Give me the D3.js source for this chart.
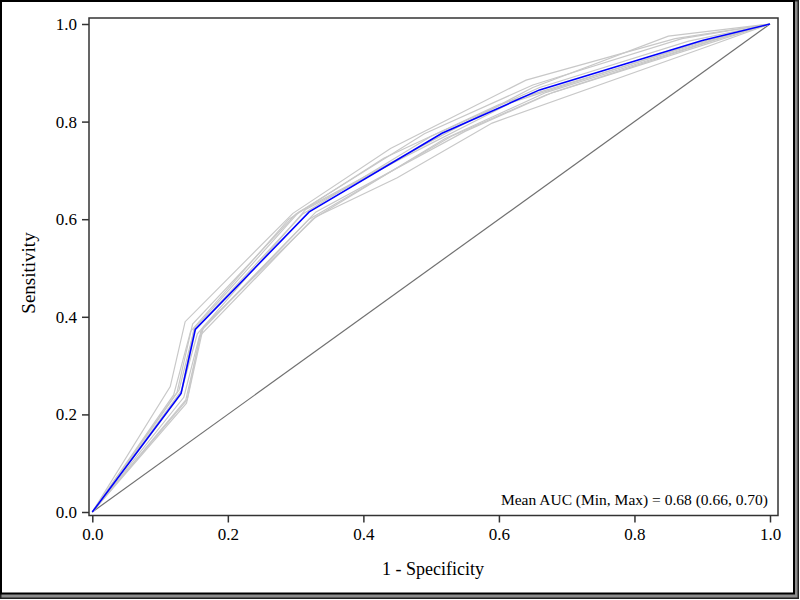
<!DOCTYPE html>
<html>
<head>
<meta charset="utf-8">
<script src="https://cdn.jsdelivr.net/npm/d3@7"></script>
<style>
  body { margin: 0; background: #fff; }
  svg { display: block; font-family: "Liberation Serif", "Times New Roman", serif; }
</style>
</head>
<body>
<svg id="chart" width="800" height="600"></svg>
<script>
// mean ROC curve (blue)
var meanFpr = [0, 0.131, 0.152, 0.32, 0.516, 0.66, 0.90, 1];
var meanTpr = [0, 0.243, 0.374, 0.615, 0.776, 0.865, 0.966, 1];

// individual runs (grey) - [fpr, tpr]
var runs = [
  [[0, 0.115, 0.137, 0.296, 0.44, 0.64, 0.86, 1], [0, 0.257, 0.39, 0.612, 0.745, 0.885, 0.97, 1]],
  [[0, 0.139, 0.164, 0.33, 0.45, 0.59, 0.91, 1], [0, 0.223, 0.38, 0.605, 0.685, 0.797, 0.955, 1]],
  [[0, 0.128, 0.15, 0.31, 0.5, 0.66, 0.88, 1], [0, 0.25, 0.372, 0.61, 0.77, 0.87, 0.965, 1]],
  [[0, 0.135, 0.158, 0.325, 0.52, 0.67, 0.9, 1], [0, 0.235, 0.36, 0.6, 0.765, 0.86, 0.96, 1]],
  [[0, 0.125, 0.148, 0.3, 0.49, 0.65, 0.87, 1], [0, 0.245, 0.385, 0.61, 0.775, 0.875, 0.97, 1]],
  [[0, 0.14, 0.16, 0.32, 0.53, 0.67, 0.92, 1], [0, 0.23, 0.37, 0.6, 0.77, 0.855, 0.965, 1]],
  [[0, 0.13, 0.155, 0.315, 0.45, 0.62, 0.89, 1], [0, 0.24, 0.365, 0.62, 0.72, 0.84, 0.96, 1]],
  [[0, 0.132, 0.15, 0.305, 0.5, 0.65, 0.85, 1], [0, 0.25, 0.375, 0.615, 0.76, 0.87, 0.975, 1]],
  [[0, 0.12, 0.145, 0.29, 0.43, 0.6, 0.9, 1], [0, 0.24, 0.37, 0.6, 0.725, 0.835, 0.962, 1]],
  [[0, 0.138, 0.162, 0.33, 0.55, 0.68, 0.92, 1], [0, 0.23, 0.375, 0.615, 0.78, 0.86, 0.968, 1]]
];

var tickValues = [0, 0.2, 0.4, 0.6, 0.8, 1.0];
var aucLabel = "Mean AUC (Min, Max) = 0.68 (0.66, 0.70)";

var svg = d3.select('#chart');

// outer frame with shadow
svg.append('rect')
  .attr('x', 0.75).attr('y', 0.75).attr('width', 797.5).attr('height', 597.5)
  .attr('fill', '#8c8c8c').attr('stroke', '#222').attr('stroke-width', 1.5);
svg.append('rect')
  .attr('x', 1).attr('y', 1).attr('width', 793).attr('height', 592.5)
  .attr('fill', '#fff').attr('stroke', '#000').attr('stroke-width', 2);

var x = d3.scaleLinear().domain([0, 1]).range([92.3, 770]);
var y = d3.scaleLinear().domain([0, 1]).range([512, 24]);

// plot box
var box = { left: 89, right: 778, top: 18, bottom: 515.5 };
svg.append('rect')
  .attr('x', box.left).attr('y', box.top)
  .attr('width', box.right - box.left).attr('height', box.bottom - box.top)
  .attr('fill', 'none').attr('stroke', '#333').attr('stroke-width', 1.5);

// axes
var fmt = d3.format('.1f');
var xAxis = svg.append('g')
  .attr('transform', 'translate(0,' + box.bottom + ')')
  .call(d3.axisBottom(x).tickValues(tickValues).tickFormat(fmt).tickSizeOuter(0).tickSize(7).tickPadding(5));
var yAxis = svg.append('g')
  .attr('transform', 'translate(' + box.left + ',0)')
  .call(d3.axisLeft(y).tickValues(tickValues).tickFormat(fmt).tickSizeOuter(0).tickSize(7).tickPadding(5));

[xAxis, yAxis].forEach(function(g) {
  g.select('.domain').remove();
  g.selectAll('line').attr('stroke', '#333').attr('stroke-width', 1.5);
  g.selectAll('text')
    .attr('fill', '#000')
    .style('font-family', '"Liberation Serif", "Times New Roman", serif')
    .style('font-size', '17px');
});

// chance diagonal
svg.append('line')
  .attr('x1', x(0)).attr('y1', y(0)).attr('x2', x(1)).attr('y2', y(1))
  .attr('stroke', '#707070').attr('stroke-width', 1.2);

var line = d3.line()
  .x(function(d) { return x(d[0]); })
  .y(function(d) { return y(d[1]); });

// grey runs
svg.append('g').selectAll('path')
  .data(runs)
  .enter().append('path')
  .attr('d', function(r) { return line(d3.zip(r[0], r[1])); })
  .attr('fill', 'none')
  .attr('stroke', '#c8c8c8')
  .attr('stroke-width', 1.2);

// mean curve
svg.append('path')
  .attr('d', line(d3.zip(meanFpr, meanTpr)))
  .attr('fill', 'none')
  .attr('stroke', '#0000ff')
  .attr('stroke-width', 1.6);

// labels
svg.append('text')
  .attr('x', 768).attr('y', 505)
  .attr('text-anchor', 'end')
  .style('font-size', '15.5px')
  .text(aucLabel);

svg.append('text')
  .attr('x', 433).attr('y', 575)
  .attr('text-anchor', 'middle')
  .style('font-size', '18px')
  .text('1 - Specificity');

svg.append('text')
  .attr('transform', 'translate(35,273) rotate(-90)')
  .attr('text-anchor', 'middle')
  .style('font-size', '19px')
  .text('Sensitivity');
</script>
</body>
</html>
